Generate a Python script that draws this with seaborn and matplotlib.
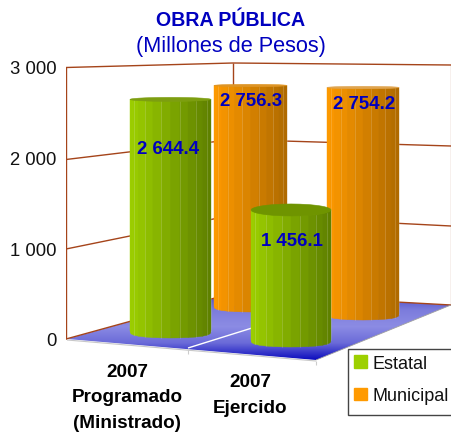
import numpy as np
import pandas as pd
import seaborn as sns
import matplotlib
matplotlib.use("Agg")
import matplotlib.pyplot as plt
from matplotlib.colors import LinearSegmentedColormap, to_rgb
from matplotlib.patches import Patch, Polygon, Rectangle
from matplotlib.transforms import Affine2D

# ---- data ----
periods = ["2007 Programado (Ministrado)", "2007 Ejercido"]
period_labels = ["2007\nProgramado\n(Ministrado)", "2007\nEjercido"]
series = ["Estatal", "Municipal"]
estatal_values = [2644.4, 1456.1]
municipal_values = [2756.3, 2754.2]
y_ticks = [0, 1000, 2000, 3000]
y_tick_labels = ["0", "1 000", "2 000", "3 000"]
title = "OBRA PÚBLICA"
subtitle = "(Millones de Pesos)"

# ---- style ----
sns.set_theme(style="white")
plt.rcParams["font.family"] = ["Liberation Sans", "DejaVu Sans"]
W, H = 451, 439
BLUE = "#0000BF"
WALL = "#A5441A"
GREEN_L, GREEN_R = "#9DD000", "#5E7F00"
ORANGE_L, ORANGE_R = "#FF9A00", "#AE6A00"

fig = plt.figure(figsize=(W / 100, H / 100), dpi=100)
AX_L = 66
ax = fig.add_axes([AX_L / W, 0, 1 - AX_L / W, 1])
Y0, Y3000 = 340, 68
PXU = (Y0 - Y3000) / 3000


def v(py):
    """pixel row -> value on the front value scale"""
    return (Y0 - py) / PXU


df = pd.DataFrame({
    "periodo": periods * 2,
    "serie": [series[0]] * 2 + [series[1]] * 2,
    "valor": estatal_values + municipal_values,
})
sns.barplot(data=df, x="periodo", y="valor", hue="serie", order=periods,
            hue_order=series, palette=[GREEN_L, ORANGE_L], legend=False,
            errorbar=None, linewidth=0, ax=ax)
ax.set_xlim(AX_L, W)
ax.set_ylim(v(H), v(0))
ax.set_xlabel("")
ax.set_ylabel("")
ax.set_xticks([])
ax.set_yticks(y_ticks, y_tick_labels, fontsize=13.3, color="#111111")
ax.tick_params(axis="y", length=0, pad=7)
for s in ax.spines.values():
    s.set_visible(False)


def line(xs, ys, **kw):
    ax.plot(xs, [v(y) for y in ys], solid_capstyle="butt", **kw)


# floor
floor = [(67, 340), (316, 361), (451, 306), (233, 294)]
grad = LinearSegmentedColormap.from_list(
    "floor", ["#4646C4", "#7C7CDC", "#8C8CE4", "#6A6AD8", "#0C0CBE"])
im = ax.imshow(np.linspace(0, 1, 128)[:, None], cmap=grad, aspect="auto",
               extent=(AX_L, W, v(361), v(294)), zorder=1)
clip = Polygon([(x, v(y)) for x, y in floor], transform=ax.transData,
               fc="none", ec="none")
ax.add_patch(clip)
im.set_clip_path(clip)
ax.set_xlim(AX_L, W)
ax.set_ylim(v(H), v(0))

# walls and gridlines
BX, RX = 233, 451
left_back = [294, 216, 140.5, 64]
right_y = [306, 227, 147, 66]
left_y = [340, 250, 160.5, 68.5]
for yl, yb, yr in zip(left_y, left_back, right_y):
    line([AX_L, BX, RX], [yl, yb, yr], color=WALL, lw=1.0, zorder=2)
line([AX_L, AX_L], [68, 340], color=WALL, lw=1.0, zorder=2)
line([BX, BX], [64, 294], color=WALL, lw=1.0, zorder=2)
line([RX - 0.5, RX - 0.5], [66, 306], color=WALL, lw=1.0, alpha=0.4, zorder=2)
line([316, 451], [361, 306], color="#A0A0A0", lw=0.6, zorder=2)
line([67, 316], [341, 362], color="#C8C8C8", lw=0.8, zorder=2)
line([188, 252], [349, 329], color="white", lw=1.0, zorder=2)
line([188, 188], [350, 355], color="#CCCCCC", lw=0.8, zorder=2)
line([316, 316], [362, 366], color="#CCCCCC", lw=0.8, zorder=2)


def mix(a, b, t):
    a, b = np.array(to_rgb(a)), np.array(to_rgb(b))
    return tuple(a + (b - a) * t)


def cylinder(patch, left, right, base_y, k, ry_top, ry_base, c_l, c_r, top_c, z):
    """Place a seaborn bar in the chart's perspective and shade it as a cylinder."""
    value = patch.get_height()
    sx = (right - left) / patch.get_width()
    patch.set_transform(Affine2D().scale(sx, k).translate(left - patch.get_x() * sx, v(base_y)) + ax.transData)
    patch.set_zorder(z)
    base = v(base_y)
    top = base + k * value
    cx, rx = (left + right) / 2, (right - left) / 2
    n = 14
    th = np.linspace(np.pi, 0, n + 1)
    xs = cx + rx * np.cos(th)
    bulge = np.clip(np.sin(th), 0, 1) ** 0.6
    ybot = base - ry_base / PXU * bulge
    ytop = top - ry_top / PXU * np.sin(th)
    for i in range(n):
        t = ((xs[i] + xs[i + 1]) / 2 - left) / (right - left)
        ax.fill([xs[i], xs[i + 1], xs[i + 1], xs[i]],
                [ybot[i], ybot[i + 1], ytop[i + 1], ytop[i]],
                color=mix(c_l, c_r, t), lw=0.3, zorder=z + 0.1)
        if i % 2 == 1:
            ax.plot([xs[i + 1]] * 2, [ybot[i + 1], ytop[i + 1]], color="white",
                    alpha=0.16, lw=0.7, zorder=z + 0.2)
    tt = np.linspace(0, 2 * np.pi, 29)
    ax.fill(cx + rx * np.cos(tt), top + ry_top / PXU * np.sin(tt), color=top_c,
            lw=0.4, zorder=z + 0.3)


est = ax.containers[0]
mun = ax.containers[1]
cylinder(mun[0], 214, 287, 307, 0.8824, 1.2, 6, ORANGE_L, ORANGE_R, "#DE9526", 3)
cylinder(mun[1], 327, 399, 315, 0.907, 1.2, 6, ORANGE_L, ORANGE_R, "#E0A550", 3)
cylinder(est[0], 130, 211, 332, 0.966, 2.0, 7, GREEN_L, GREEN_R, "#7D9E10", 5)
cylinder(est[1], 251, 331, 341, 0.985, 6, 7, GREEN_L, GREEN_R, "#6F9400", 6)


def fmt(val):
    return f"{val:,.1f}".replace(",", " ")


label_pos = [(168, 150, estatal_values[0]), (292, 241, estatal_values[1]),
             (251, 102, municipal_values[0]), (364, 104, municipal_values[1])]
for x, y, val in label_pos:
    ax.text(x, v(y), fmt(val), color=BLUE, fontsize=13.4, fontweight="bold",
            ha="center", va="center", zorder=10)

ax.text(230.5, v(20), title, color=BLUE, fontsize=14.15, fontweight="bold",
        ha="center", va="center", zorder=10)
ax.text(230.5, v(46), subtitle, color=BLUE, fontsize=15.7, ha="center",
        va="center", zorder=10)

for lab, x, y in zip(period_labels, [127, 250], [398, 395.5]):
    ax.text(x, v(y), lab, color="#000000", fontsize=13.6, fontweight="bold",
            ha="center", va="center", linespacing=1.65, zorder=10)

# legend box runs off the right edge, as in the source
fig.add_artist(Rectangle((348 / W, 1 - 416 / H), 110 / W, 66 / H,
                         transform=fig.transFigure, fc="white", ec="#444444",
                         lw=1.0, zorder=19))
leg = ax.legend(handles=[Patch(color=GREEN_L, label=series[0]),
                         Patch(color=ORANGE_L, label=series[1])],
                loc="upper left", bbox_to_anchor=(354 / W, 1 - 356 / H),
                bbox_transform=fig.transFigure, borderaxespad=0, frameon=False,
                borderpad=0, fontsize=13, handlelength=0.72, handleheight=0.72,
                handletextpad=0.28, labelspacing=0.85)
leg.set_zorder(20)
ax.set_zorder(21)
ax.patch.set_alpha(0)
for t in leg.get_texts():
    t.set_color("#111111")

fig.savefig("out.png", dpi=100)
